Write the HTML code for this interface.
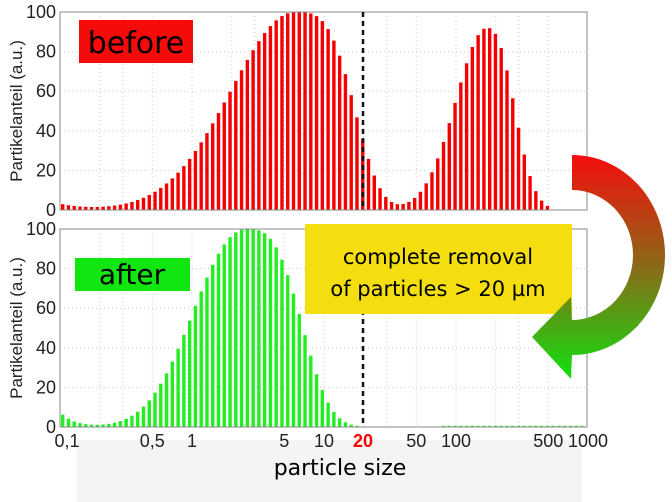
<!DOCTYPE html>
<html><head><meta charset="utf-8"><style>
body{margin:0;background:#fff;width:672px;height:502px;overflow:hidden}
svg{display:block}
text{font-family:"Liberation Sans",sans-serif}
</style></head><body>
<svg id="s" width="672" height="502" viewBox="0 0 672 502" xmlns="http://www.w3.org/2000/svg">
<defs>
<linearGradient id="g" x1="0" y1="0" x2="0" y2="1">
<stop offset="0" stop-color="#f40d0d"/><stop offset="0.5" stop-color="#8a6a18"/><stop offset="1" stop-color="#10e010"/>
</linearGradient>
</defs>
<g id="grid"></g>
<g id="bars"></g>
<g id="frame"></g>
<line x1="363" y1="12" x2="363" y2="210" stroke="#111" stroke-width="2.5" stroke-dasharray="5,4"/>
<line x1="363" y1="229" x2="363" y2="427" stroke="#111" stroke-width="2.5" stroke-dasharray="5,4"/>
<rect x="79" y="20" width="114" height="43" fill="#f60b0b"/>
<text x="136" y="53" font-size="30" text-anchor="middle" style="font-family:'DejaVu Sans',sans-serif">before</text>
<rect x="75" y="258" width="115" height="33" fill="#11e611"/>
<text x="132" y="284" font-size="28" text-anchor="middle" style="font-family:'DejaVu Sans',sans-serif">after</text>
<rect x="305" y="224" width="267" height="90" fill="#f5de10"/>
<text x="438" y="264" font-size="21" text-anchor="middle" style="font-family:'DejaVu Sans',sans-serif">complete removal</text>
<text x="438" y="296" font-size="21" text-anchor="middle" style="font-family:'DejaVu Sans',sans-serif">of particles &gt; 20 µm</text>
<path d="M572,155 A93,100 0 0 1 572,355 L571,379 L532,337 L571,297 L572,320 A61,65 0 0 0 572,190 Z" fill="url(#g)"/>
<rect x="77" y="440" width="505" height="62" fill="#f4f4f4"/>
<text x="340" y="475" font-size="22" text-anchor="middle" style="font-family:'DejaVu Sans',sans-serif">particle size</text>
<g id="lab" font-size="18" fill="#222"></g>
</svg>
<script>
var ns="http://www.w3.org/2000/svg";
function el(p,t,a,txt){var e=document.createElementNS(ns,t);for(var k in a)e.setAttribute(k,a[k]);if(txt!==undefined)e.textContent=txt;document.getElementById(p).appendChild(e);return e;}
function X(v){return 192+132*Math.log10(v);}
function G(d,s,p){return Math.exp(-Math.pow(Math.abs(d)/s,p)/2);}
var L=60,R=587;
var panels=[{t:12,b:210,c:"#f40000"},{t:229,b:427,c:"#22ee22"}];
panels.forEach(function(p,i){
 var h=p.b-p.t;
 for(var y=20;y<100;y+=20){var yy=p.b-h*y/100;el("grid","line",{x1:L,x2:R,y1:yy,y2:yy,stroke:"#ccc","stroke-dasharray":"1,3"});}
 [0.2,0.3,0.5,1,2,3,5,10,20,30,50,100,200,300,500].forEach(function(v){var xx=X(v);el("grid","line",{x1:xx,x2:xx,y1:p.t,y2:p.b,stroke:"#ccc","stroke-dasharray":"1,3"});});
 el("frame","rect",{x:L,y:p.t,width:R-L,height:h,fill:"none",stroke:"#888","stroke-width":1});
 for(var y=0;y<=100;y+=20){var yy=p.b-h*y/100;el("lab","text",{x:56,y:yy+6,"text-anchor":"end"},""+y);}
 el("lab","text",{x:0,y:0,transform:"translate(22,"+((p.t+p.b)/2)+") rotate(-90)","text-anchor":"middle","font-size":"17"},"Partikelanteil (a.u.)");
 for(var x=61;x<R-2;x+=5.77){
  var c=x+1.7,v;
  if(i==0){
   var d=c-295;
   v=100*(d<0?G(d,64,2):G(d,54.8,3.4));
   var d2=c-487;
   v+=92*(d2<0?G(d2,31,2):G(d2,26,2.4))+3*Math.exp(-(c-61)/25);
   if(c>552)v=0;
  } else {
   var d=c-247;
   v=100*(d<0?G(d,52,2.2):G(d,50.3,3))+7*Math.exp(-(c-61)/14);
   if(c>440)v=0.6;
  }
  if(v>0.3){var bh=h*Math.min(v,100)/100;el("bars","rect",{x:x,y:p.b-bh,width:3.4,height:bh,fill:p.c});}
 }
});
[["0,1",0.1],["0,5",0.5],["1",1],["5",5],["10",10],["50",50],["100",100],["500",500],["1000",1000]].forEach(function(a){
 el("lab","text",{x:X(a[1])+(a[1]==0.1?7:0),y:447,"text-anchor":"middle"},a[0]);});
el("lab","text",{x:363,y:447,"text-anchor":"middle",fill:"#f00","font-weight":"bold"},"20");
</script>
</body></html>
